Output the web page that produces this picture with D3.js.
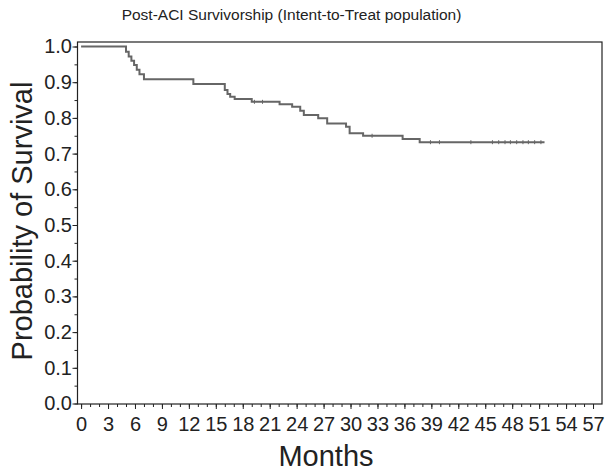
<!DOCTYPE html>
<html>
<head>
<meta charset="utf-8">
<script src="https://cdn.jsdelivr.net/npm/d3@7"></script>
<style>
  body { margin: 0; background: #fff; }
  text { font-family: "Liberation Sans", Arial, Helvetica, sans-serif; fill: #222; }
</style>
</head>
<body>
<div id="chart"></div>
<script>
// Kaplan-Meier steps (months, survival)
var stepTimes = [0, 5.0, 5.3, 5.6, 5.9, 6.2, 6.5, 7.0, 12.5, 16.0, 16.3, 16.6, 17.1, 19.0, 22.1, 23.5, 24.4, 24.8, 26.4, 27.4, 29.5, 29.9, 31.4, 35.8, 37.7];
var stepSurv = [1.0, 0.985, 0.972, 0.960, 0.948, 0.935, 0.922, 0.908, 0.895, 0.878, 0.867, 0.859, 0.853, 0.845, 0.838, 0.831, 0.820, 0.808, 0.799, 0.784, 0.775, 0.757, 0.750, 0.741, 0.732];
var lastTime = 51.6;
// censored observations (months)
var censorTimes = [19.3, 20.2, 32.4, 38.9, 39.9, 43.4, 45.8, 46.5, 47.2, 47.8, 48.5, 49.2, 49.8, 50.5, 51.2];
var xTickLabels = [0, 3, 6, 9, 12, 15, 18, 21, 24, 27, 30, 33, 36, 39, 42, 45, 48, 51, 54, 57];
var yTickLabels = [0, 0.1, 0.2, 0.3, 0.4, 0.5, 0.6, 0.7, 0.8, 0.9, 1.0];

var W = 609, H = 471;
var pLeft = 77.5, pRight = 602, pTop = 42, pBottom = 404;

var svg = d3.select("#chart").append("svg")
    .attr("width", W)
    .attr("height", H);

var x = d3.scaleLinear().domain([-0.4, 58]).range([pLeft, pRight]);
var y = d3.scaleLinear().domain([0, 1]).range([403.5, 46.5]);

// frame
svg.append("rect")
    .attr("x", pLeft).attr("y", pTop)
    .attr("width", pRight - pLeft).attr("height", pBottom - pTop)
    .attr("fill", "none").attr("stroke", "#222").attr("stroke-width", 1.2);

// x axis: minor ticks every month, labels every 3
var xMinor = d3.axisBottom(x).tickValues(d3.range(0, 58, 1)).tickSize(3).tickFormat("");
svg.append("g").attr("transform", "translate(0," + pBottom + ")").call(xMinor)
    .call(function(g){ g.select(".domain").remove(); });
var xAxis = d3.axisBottom(x).tickValues(xTickLabels).tickSize(5).tickPadding(8).tickFormat(d3.format("d"));
svg.append("g").attr("class", "x axis").attr("transform", "translate(0," + pBottom + ")").call(xAxis)
    .call(function(g){
        g.select(".domain").remove();
        g.selectAll("text").attr("font-size", 20).attr("fill", "#222");
    });

// y axis: minor ticks every 0.05, labels every 0.1
var yMinor = d3.axisLeft(y).tickValues(d3.range(0, 1.001, 0.05)).tickSize(3).tickFormat("");
svg.append("g").attr("transform", "translate(" + pLeft + ",0)").call(yMinor)
    .call(function(g){ g.select(".domain").remove(); });
var yAxis = d3.axisLeft(y).tickValues(yTickLabels).tickSize(5).tickPadding(0.5).tickFormat(d3.format(".1f"));
svg.append("g").attr("class", "y axis").attr("transform", "translate(" + pLeft + ",0)").call(yAxis)
    .call(function(g){
        g.select(".domain").remove();
        g.selectAll("text").attr("font-size", 20).attr("fill", "#222");
    });
svg.selectAll(".tick line").attr("stroke", "#222");

// survival curve
var pts = stepTimes.map(function(t, i){ return [t, stepSurv[i]]; });
pts.push([lastTime, stepSurv[stepSurv.length - 1]]);
var line = d3.line()
    .x(function(d){ return x(d[0]); })
    .y(function(d){ return y(d[1]); })
    .curve(d3.curveStepAfter);
svg.append("path")
    .datum(pts)
    .attr("d", line)
    .attr("fill", "none")
    .attr("stroke", "#666")
    .attr("stroke-width", 2);

function survAt(t){
    var s = stepSurv[0];
    for (var i = 0; i < stepTimes.length; i++) if (stepTimes[i] <= t) s = stepSurv[i];
    return s;
}
svg.append("g").selectAll("line")
    .data(censorTimes)
    .enter().append("line")
    .attr("x1", function(d){ return x(d); })
    .attr("x2", function(d){ return x(d); })
    .attr("y1", function(d){ return y(survAt(d)) - 2; })
    .attr("y2", function(d){ return y(survAt(d)) + 2; })
    .attr("stroke", "#666")
    .attr("stroke-width", 1);

// titles
svg.append("text")
    .attr("x", 291.5).attr("y", 20)
    .attr("text-anchor", "middle")
    .attr("font-size", 15.5)
    .text("Post-ACI Survivorship (Intent-to-Treat population)");

svg.append("text")
    .attr("x", 326).attr("y", 466)
    .attr("text-anchor", "middle")
    .attr("font-size", 29)
    .text("Months");

svg.append("text")
    .attr("transform", "translate(32,221) rotate(-90)")
    .attr("text-anchor", "middle")
    .attr("font-size", 29)
    .text("Probability of Survival");
</script>
</body>
</html>
